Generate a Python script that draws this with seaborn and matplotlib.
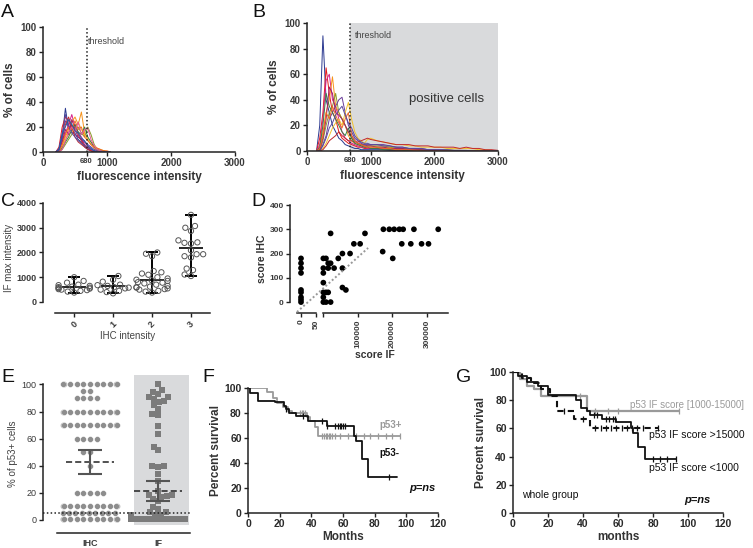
import numpy as np
import pandas as pd
import matplotlib
matplotlib.use('Agg')
import matplotlib.pyplot as plt
import seaborn as sns

sns.set_theme(style='ticks')
plt.rcParams['font.family'] = ['Liberation Sans', 'DejaVu Sans']

W, H = 753, 548

# ---- A / B: per-sample fluorescence histograms (% of cells)
hist_colors = ['#2b3990', '#e41a1c', '#d6218b', '#f7941d', '#8a9a2b', '#6a3d9a',
               '#f2c12e', '#c1272d', '#3a7d44', '#9e1f63', '#ee6a24', '#5b4a9b',
               '#e8559a', '#1f5fa8']

a_x = [200, 250, 300, 350, 400, 450, 500, 550, 600, 650, 700, 750, 800, 850, 900, 950, 1000, 1050]
a_curves = [
    [0, 2, 12, 35, 18, 22, 15, 10, 8, 4, 2, 1, 0, 0, 0, 0, 0, 0],
    [0, 4, 20, 28, 25, 18, 22, 14, 9, 5, 3, 1, 0, 0, 0, 0, 0, 0],
    [0, 1, 8, 15, 22, 30, 20, 16, 12, 8, 5, 2, 1, 0, 0, 0, 0, 0],
    [0, 0, 5, 12, 18, 24, 28, 22, 32, 15, 10, 6, 3, 1, 0, 0, 0, 0],
    [0, 0, 2, 6, 10, 14, 18, 20, 15, 12, 20, 14, 6, 2, 1, 0, 0, 0],
    [0, 3, 15, 25, 20, 16, 14, 12, 10, 8, 6, 4, 2, 1, 0, 0, 0, 0],
    [0, 0, 4, 10, 14, 16, 20, 24, 18, 14, 10, 8, 5, 3, 2, 1, 0, 0],
    [0, 1, 10, 22, 28, 20, 12, 8, 6, 4, 2, 1, 0, 0, 0, 0, 0, 0],
    [0, 0, 3, 8, 12, 18, 22, 16, 14, 20, 12, 8, 4, 2, 1, 1, 0, 0],
    [0, 2, 8, 18, 14, 26, 18, 12, 10, 6, 4, 2, 1, 0, 0, 0, 0, 0],
    [0, 0, 6, 14, 20, 18, 25, 18, 20, 12, 9, 6, 4, 3, 2, 1, 1, 0],
    [0, 1, 12, 30, 22, 15, 12, 9, 7, 5, 3, 2, 1, 0, 0, 0, 0, 0],
    [0, 0, 2, 9, 16, 20, 16, 24, 14, 18, 19, 10, 5, 2, 1, 0, 0, 0],
    [0, 2, 14, 20, 26, 22, 17, 15, 11, 9, 5, 3, 1, 0, 0, 0, 0, 0],
]

b_x = [150, 200, 250, 300, 350, 400, 450, 500, 550, 600, 650, 700, 750, 800, 850, 900, 950, 1000,
       1100, 1200, 1300, 1400, 1500, 1600, 1700, 1800, 1900, 2000, 2100, 2200, 2300, 2400, 2500,
       2600, 2700, 2800, 2900, 3000]
b_curves = [
    [0, 20, 90, 40, 30, 20, 15, 10, 8, 5, 4, 3, 2, 2, 1, 1, 1, 1,
     1, 1, 0.5, 0.5, 0.5, 0, 0, 0, 0, 0, 0, 0, 0, 0, 0, 0, 0, 0, 0, 0],
    [0, 10, 30, 65, 45, 30, 25, 15, 10, 8, 6, 5, 4, 3, 3, 2, 2, 2,
     2, 2, 1, 1, 1, 1, 0.5, 0.5, 0, 0, 0, 0, 0, 0, 0, 0, 0, 0, 0, 0],
    [0, 5, 25, 55, 60, 40, 35, 25, 15, 10, 8, 6, 5, 4, 3, 3, 2, 2,
     2, 2, 1.5, 1, 1, 1, 0.5, 0.5, 0.5, 0, 0, 0, 0, 0, 0, 0, 0, 0, 0, 0],
    [0, 2, 15, 30, 40, 58, 35, 30, 25, 20, 12, 8, 6, 5, 4, 4, 3, 3,
     3, 3, 3, 2, 2, 2, 1, 1, 1, 1, 0.5, 0.5, 0.5, 0.5, 0.5, 0.5, 0.5, 0.5, 0.5, 0],
    [0, 0, 8, 20, 30, 35, 45, 30, 25, 20, 15, 10, 8, 6, 5, 5, 4, 4,
     4, 4, 3, 3, 2, 2, 2, 1, 1, 1, 1, 1, 0.5, 0.5, 0, 0, 0, 0, 0, 0],
    [0, 0, 5, 12, 25, 30, 35, 40, 42, 30, 20, 15, 10, 8, 6, 5, 5, 5,
     5, 5, 4, 3, 3, 2, 2, 2, 1, 1, 1, 0.5, 0.5, 0, 0, 0, 0, 0, 0, 0],
    [0, 0, 2, 6, 12, 18, 22, 25, 20, 30, 38, 25, 15, 10, 8, 6, 9, 10,
     8, 7, 6, 5, 5, 4, 4, 3, 3, 3, 3, 2, 2, 2, 2, 2, 1, 1, 0.5, 0],
    [0, 0, 1, 4, 8, 10, 12, 15, 12, 10, 8, 8, 7, 7, 8, 9, 10, 9,
     8, 7, 6, 5, 5, 5, 4, 4, 4, 3, 3, 3, 3, 2, 3, 2, 2, 1, 1, 0.5],
    [0, 3, 20, 45, 35, 30, 25, 20, 15, 12, 18, 10, 6, 5, 4, 3, 3, 2,
     2, 1, 1, 1, 0.5, 0.5, 0, 0, 0, 0, 0, 0, 0, 0, 0, 0, 0, 0, 0, 0],
    [0, 1, 10, 25, 50, 45, 30, 28, 25, 20, 15, 12, 8, 6, 5, 4, 4, 4,
     3, 3, 2, 2, 2, 1, 1, 1, 0.5, 0.5, 0, 0, 0, 0, 0, 0, 0, 0, 0, 0],
    [0, 2, 12, 30, 25, 35, 28, 22, 18, 25, 30, 12, 8, 6, 5, 4, 3, 3,
     3, 2, 2, 1, 1, 1, 0.5, 0, 0, 0, 0, 0, 0, 0, 0, 0, 0, 0, 0, 0],
    [0, 0, 4, 10, 18, 22, 28, 32, 35, 28, 22, 18, 12, 9, 7, 6, 6, 5,
     5, 4, 4, 3, 3, 2, 2, 2, 1, 1, 1, 1, 0.5, 0.5, 0.5, 0, 0, 0, 0, 0],
]
threshold = 680

# ---- C: IF max intensity by IHC intensity
c_cats = ['0', '1', '2', '3']
c_int0 = [1000, 850, 780, 700, 680, 650, 620, 600, 580, 560, 540, 520, 500, 480, 450, 420, 380]
c_int1 = [1050, 900, 820, 700, 680, 650, 600, 580, 550, 500, 450, 400, 350]
c_int2 = [2000, 1950, 1850, 1250, 1200, 1150, 1100, 1000, 950, 900, 880, 850, 800, 780, 750,
          700, 650, 620, 600, 580, 550, 520, 500, 450, 420, 380]
c_int3 = [3520, 3000, 3070, 2870, 2390, 2410, 2490, 2360, 1930, 1930, 1800, 1850, 2090, 1290,
          1350, 1110, 1050]
c_median = [600, 650, 900, 2200]

# ---- D: score IHC vs score IF
d_if_zero = [0, 0, 0, 0, 0, 0, 0, 0, 0]
d_ihc_zero = [180, 160, 140, 120, 50, 40, 20, 10, 0]
d_if = [1000, 1000, 1000, 1000, 1000, 1000, 1000, 8600, 8600, 8600, 15000, 15000, 15000,
        22000, 22000, 22000, 32000, 44000, 56000, 78000, 56000, 56000, 66000, 89000, 107000,
        121000, 174000, 191000, 205000, 231000, 262000, 332000, 172000, 201000, 227000,
        253000, 284000, 304000, 220000]
d_ihc = [180, 140, 120, 80, 40, 20, 0, 180, 40, 0, 160, 140, 40,
         160, 0, 283, 140, 180, 200, 200, 140, 60, 50, 240, 240,
         283, 300, 300, 300, 300, 300, 300, 208, 180, 240,
         240, 240, 240, 300]

# ---- E: % of p53+ cells, IHC vs IF
e_ihc = ([100] * 11 + [95] * 2 + [90] * 4 + [80] * 11 + [70] * 11 + [60] * 4 + [50] * 2 +
         [40] + [20] * 5 + [10] * 11 + [5] * 9 + [0.5] * 15)
e_if = ([100, 95.6, 93, 91, 94.8, 89, 87.4, 91, 88, 85, 82, 77.5, 78.3, 69, 63.5, 54, 51.5,
         39.8, 39.3, 39.8, 33.7, 29, 21.7, 17.6, 18.5, 17, 18.5, 15.7, 13.7, 8.4, 9.6, 6, 6,
         4, 3.6, 4] + [0.5] * 15)
e_mean = [43, 21.5]
e_low = [34, 14]
e_high = [52, 29]
e_cutoff = 5

# ---- F: survival p53- / p53+
f_neg_t = [0, 1, 6, 17, 23, 24, 26, 30, 38, 50, 67, 68, 72, 76, 94]
f_neg_s = [100, 96, 90, 89, 86, 83, 80, 78, 74, 70, 62, 58, 43, 29, 29]
f_neg_cens = [24, 35, 47, 50, 55, 57, 58, 59, 60, 61, 89]
f_pos_t = [0, 12, 16, 18, 22, 25, 28, 37, 39, 42, 44, 96]
f_pos_s = [100, 97, 92, 88, 85, 82, 80, 77, 74, 69, 62, 62]
f_pos_cens = [33, 34, 35, 36, 47, 48, 49, 50, 51, 52, 53, 55, 58, 63, 68, 73, 77, 82, 87, 91, 96]

# ---- G: survival by IF score group
g_mid_t = [0, 4, 8, 12, 16, 42, 95]
g_mid_s = [100, 95, 90, 88, 83, 72, 72]
g_mid_cens = [38, 47, 54, 60, 95]
g_low_t = [0, 3, 8, 14, 20, 36, 39, 42, 44, 51, 59, 67.6, 68.6, 71.4, 75.2, 93.3]
g_low_s = [100, 97, 93, 90, 84, 80, 74.5, 72, 69.5, 67, 64.7, 60, 56.5, 47, 38, 38]
g_low_cens = [46, 48, 53, 55, 57, 58, 80, 84, 88, 93]
g_high_t = [0, 5, 10, 16, 21, 25, 35, 44, 83]
g_high_s = [100, 96, 92, 88, 83, 72, 67, 60, 60]
g_high_cens = [29, 40, 47, 50, 53, 56, 59, 62, 65, 68, 71, 74, 83]

fig = plt.figure(figsize=(W / 100, H / 100), dpi=100)


def add_ax(l, t, r, b):
    return fig.add_axes([l / W, 1 - b / H, (r - l) / W, (b - t) / H])


def prism(ax, size=7, bold=True, color='#3a3a3a'):
    sns.despine(ax=ax)
    for s in ('left', 'bottom'):
        ax.spines[s].set_linewidth(1.1)
        ax.spines[s].set_color('#222222')
    ax.tick_params(direction='out', length=3, width=1, labelsize=size,
                   labelcolor=color, color='#222222', pad=1.5)
    for lab in ax.get_xticklabels() + ax.get_yticklabels():
        lab.set_fontweight('bold' if bold else 'normal')
    ax.set_facecolor('none')


def step_at(t, s, c):
    idx = np.searchsorted(t, c, side='right') - 1
    return np.asarray(s)[idx]


def hist_panel(ax, xs, curves, shade):
    df = pd.DataFrame([(i, x, v) for i, c in enumerate(curves) for x, v in zip(xs, c)],
                      columns=['cell', 'intensity', 'pct'])
    if shade:
        ax.axvspan(threshold, 3000, ymax=1, color='#d9dadc', lw=0, zorder=0)
    sns.lineplot(data=df, x='intensity', y='pct', hue='cell',
                 palette=hist_colors[:len(curves)], estimator=None, lw=0.7,
                 legend=False, ax=ax)
    ax.plot([threshold, threshold], [0, 100], ls=(0, (1, 1.5)), color='#222222', lw=1.1)
    ax.set_xlim(0, 3000)
    ax.set_ylim(0, 100)
    ax.set_xticks([0, threshold, 1000, 2000, 3000])
    ax.set_xticklabels(['0', str(threshold), '1000', '2000', '3000'])
    ax.set_yticks(range(0, 101, 20))
    prism(ax, size=7)
    ax.get_xticklabels()[1].set_fontsize(5.5)
    ax.set_xlabel('fluorescence intensity', fontsize=8.5, fontweight='bold', color='#333333', labelpad=2)
    ax.set_ylabel('% of cells', fontsize=8.5, fontweight='bold', color='#333333', labelpad=3)


# A
ax_a = add_ax(43, 27, 235, 152)
hist_panel(ax_a, a_x, a_curves, False)
ax_a.text(705, 86, 'threshold', fontsize=6.5, color='#444444')

# B
ax_b = add_ax(307, 23, 498, 151)
hist_panel(ax_b, b_x, b_curves, True)
ax_b.text(750, 88, 'threshold', fontsize=6.5, color='#444444')
ax_b.text(1600, 38, 'positive cells', fontsize=9.5, color='#333333')

# C
ax_c = add_ax(43, 203, 212, 313)
df_c = pd.DataFrame({'ihc': sum([[c] * len(v) for c, v in zip(c_cats, [c_int0, c_int1, c_int2, c_int3])], []),
                     'val': c_int0 + c_int1 + c_int2 + c_int3})
sns.swarmplot(data=df_c, x='ihc', y='val', order=c_cats, size=3.8, color='white',
              edgecolor='#555555', linewidth=0.7, warn_thresh=1, ax=ax_c)
for coll in ax_c.collections:
    coll.set_facecolor('none')
for i, vals in enumerate([c_int0, c_int1, c_int2, c_int3]):
    lo, hi = min(vals), max(vals)
    ax_c.vlines(i, lo, hi, color='black', lw=1.4)
    ax_c.hlines([lo, hi], i - 0.16, i + 0.16, color='black', lw=1.4)
    ax_c.hlines(c_median[i], i - 0.3, i + 0.3, color='black', lw=1.2)
ax_c.set_xlim(-0.8, 3.54)
ax_c.set_ylim(-445, 4000)
ax_c.set_yticks(range(0, 4001, 1000))
ax_c.set_xticks(range(4))
ax_c.set_xticklabels(c_cats, rotation=45)
prism(ax_c, size=6.5)
ax_c.spines['left'].set_bounds(0, 4000)
ax_c.spines['bottom'].set_bounds(-0.5, 3.5)
ax_c.set_xlabel('IHC intensity', fontsize=7, color='#444444', labelpad=1)
ax_c.set_ylabel('IF max intensity', fontsize=7, color='#444444', labelpad=2)

# D (broken x axis)
ax_d1 = add_ax(290, 205, 318, 313)
ax_d2 = add_ax(320, 205, 453, 313)
sns.scatterplot(x=d_if_zero, y=d_ihc_zero, color='black', s=17, edgecolor='none',
                clip_on=False, ax=ax_d1)
sns.scatterplot(x=d_if, y=d_ihc, color='black', s=17, edgecolor='none', clip_on=False, ax=ax_d2)
ax_d2.plot([-75000, 130000], [-41, 223], ls=(0, (1, 1.2)), color='#999999', lw=1.4, clip_on=False)
ax_d1.set_xlim(-36.7, 56.7)
ax_d2.set_xlim(-8600, 374600)
for ax in (ax_d1, ax_d2):
    ax.set_ylim(-45, 400)
ax_d1.set_xticks([0, 50])
ax_d1.set_yticks(range(0, 401, 100))
ax_d2.set_xticks([0, 100000, 200000, 300000])
ax_d2.set_xticklabels(['', '100000', '200000', '300000'])
ax_d1.set_xticklabels(['0', '50'], rotation=90)
ax_d2.tick_params(axis='x', rotation=90)
prism(ax_d1, size=6)
prism(ax_d2, size=6)
ax_d1.spines['left'].set_bounds(0, 400)
ax_d1.spines['bottom'].set_bounds(-14, 50)
ax_d2.spines['left'].set_visible(False)
ax_d2.tick_params(axis='y', left=False, labelleft=False)
ax_d2.spines['bottom'].set_bounds(0, 360000)
ax_d1.set_ylabel('score IHC', fontsize=7.5, fontweight='bold', color='#333333', labelpad=2)
ax_d1.set_xlabel('')
fig.text(375 / W, 1 - 355 / H, 'score IF', fontsize=7.5, fontweight='bold', color='#333333',
         ha='center', va='center')

# E
ax_e = add_ax(43, 375, 190, 533)
ax_e.fill_between([0.65, 1.46], -3.7, 107, color='#d9dadc', lw=0, zorder=0)
df_e1 = pd.DataFrame({'method': 'IHC', 'val': e_ihc})
df_e2 = pd.DataFrame({'method': 'IF', 'val': e_if})
sns.swarmplot(data=df_e1, x='method', y='val', order=['IHC', 'IF'], marker='o', color='#8d8d8d',
              size=4.2, edgecolor='white', linewidth=0.3, warn_thresh=1, ax=ax_e)
sns.swarmplot(data=df_e2, x='method', y='val', order=['IHC', 'IF'], marker='s', color='#7b7b7b',
              size=3.9, linewidth=0, warn_thresh=1, ax=ax_e)
for i in range(2):
    ax_e.hlines(e_mean[i], i - 0.35, i + 0.35, color='#222222', lw=1.1, ls=(0, (4, 2)), zorder=5)
    ax_e.vlines(i, e_low[i], e_high[i], color='#555555', lw=1.5, zorder=5)
    ax_e.hlines([e_low[i], e_high[i]], i - 0.18, i + 0.18, color='#555555', lw=1.5, zorder=5)
ax_e.axhline(e_cutoff, color='#222222', ls=(0, (1, 1.5)), lw=1.1, zorder=6)
ax_e.set_xlim(-0.69, 1.47)
ax_e.set_ylim(-9.6, 107)
ax_e.set_yticks(range(0, 101, 20))
prism(ax_e, size=6.5, bold=False)
for lab in ax_e.get_xticklabels():
    lab.set_fontweight('bold')
ax_e.tick_params(axis='x', length=0, pad=4)
ax_e.spines['left'].set_bounds(0, 100)
ax_e.spines['bottom'].set_bounds(-0.49, 1.47)
ax_e.set_xlabel('')
ax_e.set_ylabel('% of p53+ cells', fontsize=7, color='#444444', labelpad=3)


def km(ax, t, s, cens, color, ls='-', lw=1.3):
    sns.lineplot(x=t, y=s, drawstyle='steps-post', color=color, lw=lw, ls=ls,
                 estimator=None, ax=ax)
    ax.plot(cens, step_at(t, s, cens), ls='none', marker='|', ms=4, mew=0.9, color=color)


def km_axes(ax, xlabel):
    ax.set_xlim(0, 120)
    ax.set_ylim(0, 100)
    ax.set_xticks(range(0, 121, 20))
    ax.set_yticks(range(0, 101, 20))
    prism(ax, size=7.5, color='#2a2a2a')
    ax.set_xlabel(xlabel, fontsize=8.5, fontweight='bold', color='#333333', labelpad=1)
    ax.set_ylabel('Percent survival', fontsize=8.5, fontweight='bold', color='#333333', labelpad=2)


# F
ax_f = add_ax(248, 388, 438, 513)
km(ax_f, f_pos_t, f_pos_s, f_pos_cens, '#9a9a9a')
km(ax_f, f_neg_t, f_neg_s, f_neg_cens, '#111111')
km_axes(ax_f, 'Months')
ax_f.text(83, 70, 'p53+', fontsize=7, fontweight='bold', color='#9a9a9a', va='center')
ax_f.text(83, 48, 'p53-', fontsize=7, fontweight='bold', color='#111111', va='center')
ax_f.text(102, 20, 'p=ns', fontsize=8, fontweight='bold', style='italic', color='#111111', va='center')

# G
ax_g = add_ax(513, 372, 723, 513)
km(ax_g, g_mid_t, g_mid_s, g_mid_cens, '#9a9a9a', lw=1.6)
km(ax_g, g_low_t, g_low_s, g_low_cens, '#111111')
km(ax_g, g_high_t, g_high_s, g_high_cens, '#111111', ls=(0, (3, 2)), lw=1.5)
km_axes(ax_g, 'months')
ax_g.text(67, 76.4, 'p53 IF score [1000-15000]', fontsize=7, color='#9a9a9a', va='center')
ax_g.text(77.7, 55.5, 'p53 IF score >15000', fontsize=7.5, color='#111111', va='center')
ax_g.text(77.7, 32, 'p53 IF score <1000', fontsize=7.5, color='#111111', va='center')
ax_g.text(5, 13, 'whole group', fontsize=7.5, color='#111111', va='center')
ax_g.text(98, 9.5, 'p=ns', fontsize=8, fontweight='bold', style='italic', color='#111111', va='center')

# panel letters
for letter, (px, py) in {'A': (1, 4), 'B': (252, 4), 'C': (1, 193), 'D': (251, 193),
                         'E': (1, 369), 'F': (202, 369), 'G': (456, 369)}.items():
    fig.text(px / W, 1 - py / H, letter, fontsize=14, color='#111111', va='top', ha='left')

fig.savefig('out.png', dpi=100)
